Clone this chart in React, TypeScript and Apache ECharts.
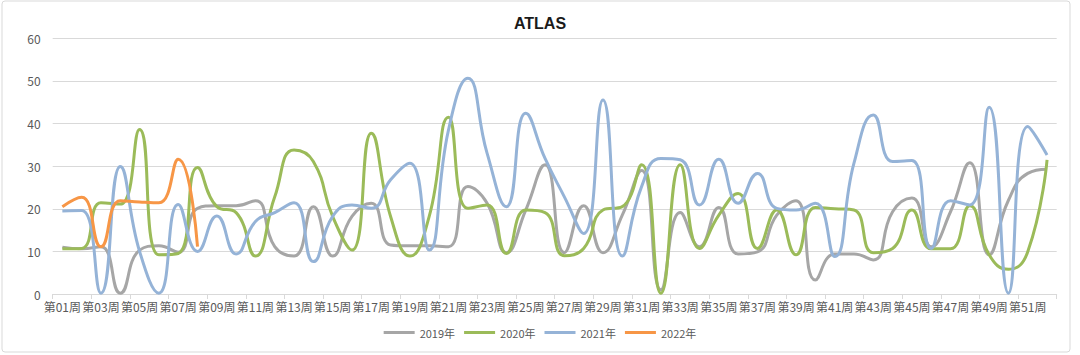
import React, { useEffect, useRef } from "react";
import * as echarts from "echarts";

const weeks: string[] = Array.from({ length: 52 }, (_, i) => `第${String(i + 1).padStart(2, "0")}周`);

const yTicks = { min: 0, max: 60, interval: 10 };

const s2019: number[] = [
  11, 10.6, 11.1, 0.2, 10.3, 11.3, 9.8, 20.1, 20.7, 20.7,
  21.9, 11.1, 8.9, 20.5, 8.9, 18.2, 21.3, 11.5, 11.3, 11.3,
  11.1, 25.2, 21.3, 9.7, 19.7, 30.3, 9.7, 20.7, 9.7, 18.5,
  29, 1, 19.1, 11.1, 20.3, 9.4, 9.9, 18.5, 21.9, 3.3,
  9.4, 9.4, 8, 19.3, 22.5, 11.1, 19.3, 30.8, 9.2, 22,
  28.3, 29.3,
];

const s2020: number[] = [
  10.6, 10.7, 21.4, 21.1, 38.6, 9.2, 9.5, 29.7, 20.5, 19.1,
  8.9, 22.8, 33.8, 31.1, 18.2, 10.3, 37.7, 18.2, 8.9, 18.2,
  41.5, 20.1, 20.9, 9.5, 19.7, 19.1, 9, 10.7, 19.7, 20.5,
  30.3, 0.2, 30.3, 10.7, 18.5, 23.6, 10.7, 19.7, 9.2, 20.3,
  20, 19.7, 9.7, 10.7, 19.7, 10.6, 10.6, 20.7, 9.2, 5.8,
  9.9, 31.5,
];

const s2021: number[] = [
  19.5, 19.6, 0.2, 29.9, 10, 0.2, 21, 10, 18.3, 9.4,
  17, 19.1, 21.4, 7.6, 18.2, 20.9, 20.1, 26.8, 30.7, 10.3,
  38.5, 50.6, 33, 20.5, 42.4, 31.8, 22.8, 14.2, 45.5, 8.9,
  25.2, 31.8, 31.5, 20.9, 31.6, 21.3, 28.3, 20.1, 19.7, 21.3,
  8.8, 30.7, 42, 31.1, 31.3, 10.7, 21.9, 20.9, 43.8, 0.2,
  39.3, 32.6,
];

const s2022: number[] = [20.5, 22.7, 11.1, 21.9, 21.6, 21.4, 31.6, 11.1];

const seriesNames = ["2019年", "2020年", "2021年", "2022年"];
const seriesColors = ["#A6A6A6", "#9BBB59", "#95B3D7", "#F79646"];

export default function App() {
  const ref = useRef<HTMLDivElement>(null);
  useEffect(() => {
    document.body.style.margin = "0";
    if (!ref.current) return;
    const chart = echarts.init(ref.current, null, { renderer: "svg" });
    const datas = [s2019, s2020, s2021, s2022];
    chart.setOption({
      animation: false,
      backgroundColor: "#ffffff",
      title: {
        text: "ATLAS",
        left: "center",
        top: 10,
        textStyle: { fontSize: 16, fontWeight: "bold", color: "#1a1a1a", fontFamily: "Arial, 'Liberation Sans', sans-serif" },
      },
      graphic: [
        {
          type: "rect",
          shape: { x: 2, y: 1, width: 1068, height: 351, r: 3 },
          style: { fill: "none", stroke: "#D9D9D9", lineWidth: 1 },
          silent: true,
        },
      ],
      legend: {
        bottom: 12,
        left: "center",
        itemWidth: 31,
        itemHeight: 3,
        itemGap: 9,
        icon: "rect",
        textStyle: { fontSize: 11, color: "#595959", fontFamily: "'Noto Sans CJK SC', sans-serif" },
        data: seriesNames,
      },
      grid: { left: 52.7, right: 23.3, top: 38.3, bottom: 61 },
      xAxis: {
        type: "category",
        data: weeks,
        boundaryGap: true,
        axisLine: { lineStyle: { color: "#D9D9D9" } },
        axisTick: { show: true, length: 5, lineStyle: { color: "#D9D9D9" } },
        axisLabel: {
          interval: 1,
          fontSize: 12,
          color: "#595959",
          margin: 6,
          fontFamily: "'Noto Sans CJK SC', sans-serif",
        },
      },
      yAxis: {
        type: "value",
        min: yTicks.min,
        max: yTicks.max,
        interval: yTicks.interval,
        axisLine: { show: false },
        axisTick: { show: false },
        axisLabel: { fontSize: 12, color: "#595959", margin: 12, fontFamily: "'Noto Sans CJK SC', sans-serif" },
        splitLine: { lineStyle: { color: "#D9D9D9" } },
      },
      series: seriesNames.map((name, i) => ({
        name,
        type: "line",
        data: datas[i],
        smooth: 0.5,
        showSymbol: false,
        symbol: "none",
        lineStyle: { width: 3, color: seriesColors[i] },
        itemStyle: { color: seriesColors[i] },
      })),
    });
    return () => chart.dispose();
  }, []);
  return <div ref={ref} style={{ position: "absolute", left: 0, top: 0, width: 1080, height: 355 }} />;
}
